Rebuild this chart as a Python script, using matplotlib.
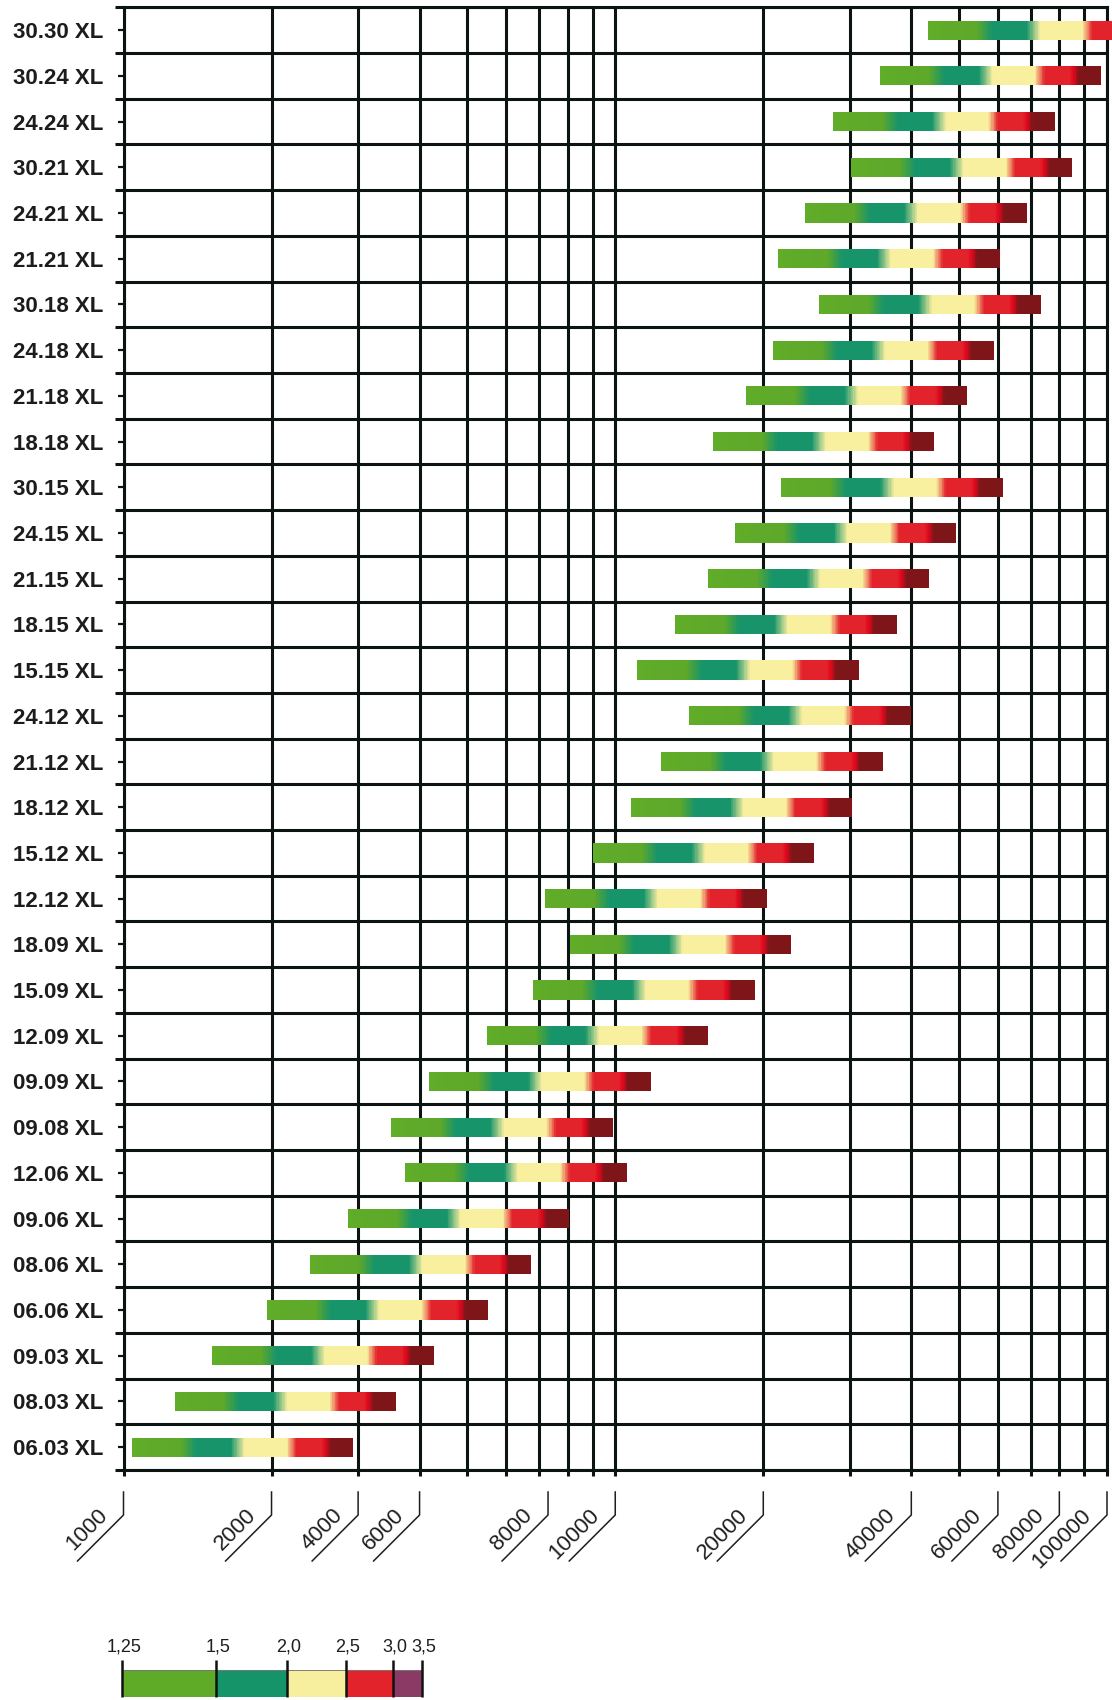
import numpy as np
import matplotlib.pyplot as plt
from matplotlib.colors import LinearSegmentedColormap
from matplotlib.lines import Line2D

plt.rcParams['font.family'] = ['Liberation Sans', 'DejaVu Sans']

# models, bottom row first
models = ['06.03 XL', '08.03 XL', '09.03 XL', '06.06 XL', '08.06 XL', '09.06 XL',
          '12.06 XL', '09.08 XL', '09.09 XL', '12.09 XL', '15.09 XL', '18.09 XL',
          '12.12 XL', '15.12 XL', '18.12 XL', '21.12 XL', '24.12 XL', '15.15 XL',
          '18.15 XL', '21.15 XL', '24.15 XL', '30.15 XL', '18.18 XL', '21.18 XL',
          '24.18 XL', '30.18 XL', '21.21 XL', '24.21 XL', '30.21 XL', '24.24 XL',
          '30.24 XL', '30.30 XL']

# value where each bar starts (ratio 1,25)
bar_start = [1040, 1270, 1515, 1955, 2395, 2860,
             3740, 3505, 4185, 5475, 6810, 8090,
             7200, 9000, 10760, 12400, 14150, 11090,
             13240, 15420, 17510, 21770, 15810, 18420,
             20900, 26010, 21450, 24350, 30130, 27770,
             34540, 43190]
# end of bar (ratio 3,5) relative to start
span_ratio = 2.82

# colour classes
legend_vals = ['1,25', '1,5', '2,0', '2,5', '3,0', '3,5']
legend_colors = ['#5fab28', '#15946a', '#f8ef9e', '#e3232b', '#8b3a66']

# gradient inside the bars
grad_stops = [(0.00, '#60ad29'), (0.22, '#5ea82a'), (0.29, '#17946a'),
              (0.445, '#17946a'), (0.51, '#f8ef9f'), (0.70, '#f8ef9f'),
              (0.745, '#e3232c'), (0.855, '#e3232c'), (0.875, '#e0081d'),
              (0.90, '#7e1519'), (1.00, '#7e1519')]
bar_cmap = LinearSegmentedColormap.from_list('bars', grad_stops)

# x axis labels (placed as in the original sheet)
tick_pos = [1000, 2000, 3000, 4000, 7300, 10000, 20000, 40000, 60000, 80000, 100000]
tick_txt = ['1000', '2000', '4000', '6000', '8000', '10000', '20000',
            '40000', '60000', '80000', '100000']

W, H = 1112, 1700
LC = '#0c1411'
LW = 2.2

fig = plt.figure(figsize=(W / 100, H / 100), dpi=100)
ax = fig.add_axes([123.5 / W, 1 - 1470 / H, (1107 - 123.5) / W, (1470 - 7.3) / H])

ax.set_xscale('log')
ax.set_xlim(1000, 100000)
ax.set_ylim(-0.5, len(models) - 0.5)

# bars
n = 300
frac = np.linspace(0, 1, n + 1)
for i, x0 in enumerate(bar_start):
    xe = x0 * span_ratio ** frac
    ye = [i - 0.21, i + 0.21]
    c = ((frac[:-1] + frac[1:]) / 2)[None, :]
    ax.pcolormesh(xe, ye, c, cmap=bar_cmap, vmin=0, vmax=1,
                  shading='flat', zorder=3, clip_on=False, rasterized=True)

# grid
grid_x = list(range(1000, 10000, 1000)) + list(range(10000, 100001, 10000))
ax.set_xticks(grid_x)
ax.set_xticks([], minor=True)
ax.set_xticklabels([])
ax.set_yticks(range(len(models)))
ax.set_yticklabels(models, fontsize=16, fontweight='bold', color='#1c1c1c')
ax.set_yticks(np.arange(-0.5, len(models)), minor=True)
ax.tick_params(axis='x', which='major', length=4, width=LW, color=LC, direction='out')
ax.tick_params(axis='y', which='major', length=4.5, width=1.6, color=LC, pad=10)
ax.tick_params(axis='y', which='minor', length=6.5, width=LW, color=LC)
ax.set_axisbelow(True)
ax.grid(axis='x', which='major', color=LC, lw=LW)
ax.grid(axis='y', which='minor', color=LC, lw=LW)
for s in ax.spines.values():
    s.set_color(LC)
    s.set_linewidth(LW)

# rotated labels with leader lines
for v, t in zip(tick_pos, tick_txt):
    xp = ax.transData.transform((v, 0))[0]
    fig.add_artist(Line2D([xp / W, xp / W, (xp - 46) / W],
                          [208 / H, 185 / H, 139 / H],
                          transform=fig.transFigure, color='#1e1e1e', lw=1.1))
    fig.text((xp - 15) / W, 184 / H, t, rotation=45, rotation_mode='anchor',
             ha='right', va='baseline', fontsize=16, color='#1e1e1e')

# legend
lx0, lx1 = 122.3, 421.7
lax = fig.add_axes([lx0 / W, 3 / H, (lx1 - lx0) / W, 57 / H])
edges = [0, 93.7, 164.4, 223.7, 270.4, 299.4]
lax.set_xlim(0, edges[-1])
lax.set_ylim(0, 57)
lax.axis('off')
for k, col in enumerate(legend_colors):
    lax.bar(edges[k], 27, width=edges[k + 1] - edges[k], bottom=0, align='edge',
            color=col, edgecolor='#6a6a6a', lw=0.6)
for k, lab in enumerate(legend_vals):
    lax.plot([edges[k], edges[k]], [0, 37], color='#111111', lw=1.8,
             clip_on=False, solid_capstyle='butt')
    lax.text(edges[k] + 2, 50, lab, ha='center', va='center', fontsize=13,
             color='#1e1e1e')

fig.savefig('out.png', dpi=100)
